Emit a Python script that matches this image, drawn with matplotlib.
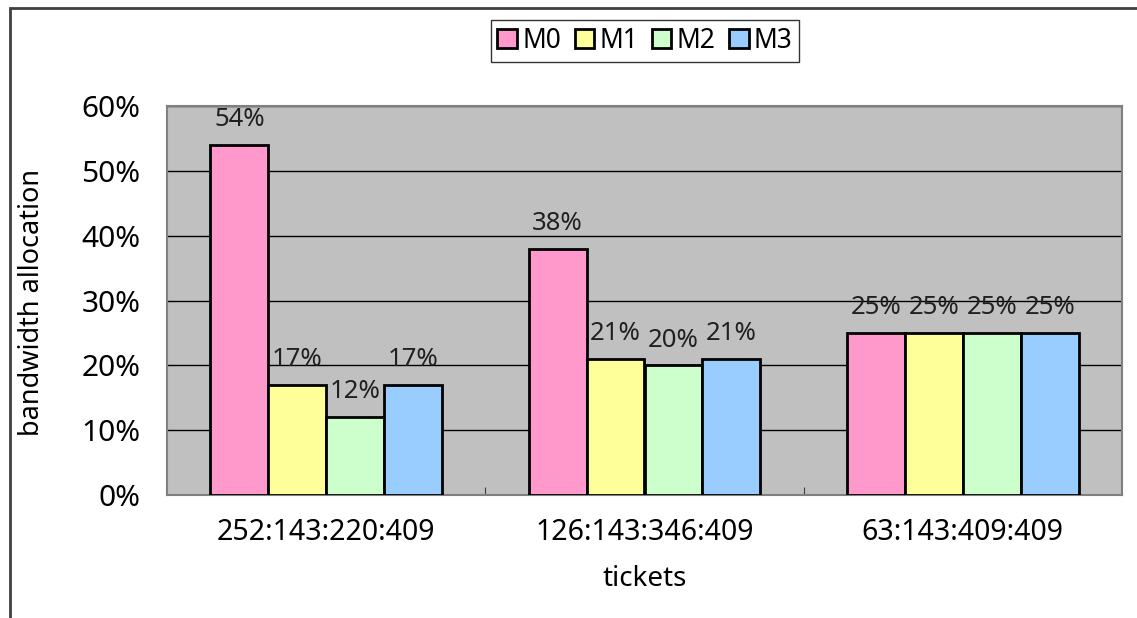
import numpy as np
import matplotlib
matplotlib.use("Agg")
import matplotlib.pyplot as plt
from matplotlib.patches import Rectangle

plt.rcParams['font.family'] = ['Noto Sans', 'DejaVu Sans']

categories = ["252:143:220:409", "126:143:346:409", "63:143:409:409"]
series = ["M0", "M1", "M2", "M3"]
m0 = [54, 38, 25]
m1 = [17, 21, 25]
m2 = [12, 20, 25]
m3 = [17, 21, 25]
colors = ['#FF99CC', '#FFFF99', '#CCFFCC', '#99CCFF']

fig = plt.figure(figsize=(11.37, 6.18), dpi=100)
ax = fig.add_axes([167/1137, 1-495/618, (1122-167)/1137, (495-106)/618])
ax.set_facecolor('#C0C0C0')

x = np.arange(len(categories))
w = 0.182
for i, (vals, col) in enumerate(zip([m0, m1, m2, m3], colors)):
    pos = x + (i - 1.5)*w
    ax.bar(pos, vals, w, color=col, edgecolor='black', linewidth=2, label=series[i], zorder=3)
    for p, v in zip(pos, vals):
        ax.text(p, v + 3.9, "%d%%" % v, ha='center', va='center', fontsize=18.5,
                color='#202020', zorder=4)

ax.set_ylim(0, 60)
ax.set_xlim(-0.5, 2.5)
ax.set_yticks(range(0, 61, 10))
ax.set_yticklabels(["%d%%" % t for t in range(0, 61, 10)], fontsize=21.5)
ax.yaxis.grid(True, color='black', linewidth=1)
ax.set_axisbelow(True)
ax.tick_params(axis='y', length=0, pad=19)
ax.set_xticks([0.5, 1.5])
ax.set_xticklabels([])
ax.tick_params(axis='x', direction='in', length=6, color='#404040')
for c, lab in zip(x, categories):
    ax.text(c, -0.06, lab, transform=ax.get_xaxis_transform(), ha='center', va='top', fontsize=20.5)
for s in ax.spines.values():
    s.set_color('#808080')
    s.set_linewidth(1.5)

fig.text(645/1137, 1-579/618, "tickets", ha='center', va='center', fontsize=20)
fig.text(32/1137, 1-302/618, "bandwidth allocation", ha='center', va='center', fontsize=19.5, rotation=90)

leg = fig.legend(loc='center', bbox_to_anchor=(645/1137, 1-41/618), ncol=4, frameon=True,
                 fontsize=19, handlelength=0.75, handleheight=0.75, handletextpad=0.2,
                 columnspacing=0.5, borderpad=0.25, fancybox=False)
leg.get_frame().set_edgecolor('black')
leg.get_frame().set_linewidth(1)

fig.add_artist(Rectangle((10/1137, -0.1), 1.2, 1 - 8/618 + 0.1, transform=fig.transFigure,
                         fill=False, edgecolor='#404040', linewidth=2))

fig.savefig("out.png", dpi=100)
